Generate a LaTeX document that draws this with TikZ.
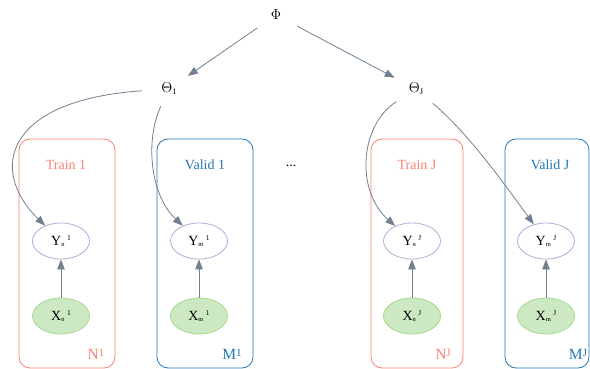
\documentclass[tikz,border=0pt]{standalone}
\usepackage{fontspec}
\setmainfont{Liberation Serif}
\usetikzlibrary{shapes.geometric,arrows.meta}
\definecolor{edgec}{HTML}{708090}
\definecolor{trainc}{HTML}{FA8072}
\definecolor{validc}{HTML}{1F77B4}
\definecolor{ystroke}{HTML}{B8A6D9}
\definecolor{xfill}{HTML}{CDE9C3}
\definecolor{xstroke}{HTML}{A6D98C}
\newcommand\sublab[3]{#1\raisebox{-1.5pt}{\fontsize{6.5}{6.5}\selectfont #2}\hspace{2.5pt}\raisebox{5pt}{\fontsize{7.5}{7.5}\selectfont #3}}
\newcommand\thetalab[1]{$\Theta$\raisebox{-2pt}{\fontsize{8.5}{8.5}\selectfont #1}}
\newcommand\platelab[2]{#1\raisebox{3pt}{\fontsize{11}{11}\selectfont #2}}
\tikzset{
  hidden/.style={ellipse,minimum width=54pt,minimum height=36pt,inner sep=0pt,font=\fontsize{14}{14}\selectfont},
  ynode/.style={ellipse,draw=ystroke,line width=0.8pt,minimum width=57pt,minimum height=36pt,inner sep=0pt,font=\fontsize{14}{14}\selectfont},
  xnode/.style={ellipse,draw=xstroke,fill=xfill,line width=0.8pt,minimum width=57pt,minimum height=36pt,inner sep=0pt,font=\fontsize{14}{14}\selectfont},
  trainbox/.style={draw=trainc,line width=0.8pt,rounded corners=11pt},
  validbox/.style={draw=validc,line width=0.8pt,rounded corners=11pt},
  traintxt/.style={text=trainc,font=\fontsize{14}{14}\selectfont,inner sep=0pt},
  validtxt/.style={text=validc,font=\fontsize{14}{14}\selectfont,inner sep=0pt},
  platetxt/.style={font=\fontsize{15.5}{15.5}\selectfont,inner sep=0pt},
  edge/.style={draw=edgec,line width=0.8pt,-{Triangle[length=10pt,width=7.5pt]}},
}
\begin{document}
\begin{tikzpicture}[x=1pt,y=-1pt]
\useasboundingbox (0,0) rectangle (590,369);
% plates
\draw[trainbox] (19,139) rectangle (115,368);
\draw[validbox] (157,139) rectangle (253,368);
\draw[trainbox] (371,139) rectangle (463,368);
\draw[validbox] (505,139) rectangle (589,368);
\node[traintxt] (lt1) at (66,165) {Train 1};
\node[validtxt] (lv1) at (205,165) {Valid 1};
\node[traintxt] (ltJ) at (417,165) {Train J};
\node[validtxt] (lvJ) at (550,165) {Valid J};
\node[platetxt,text=trainc] (pn1) at (96,354) {\platelab{N}{1}};
\node[platetxt,text=validc] (pm1) at (232,354) {\platelab{M}{1}};
\node[platetxt,text=trainc] (pnJ) at (443,354) {\platelab{N}{J}};
\node[platetxt,text=validc] (pmJ) at (578,354) {\platelab{M}{J}};
\node[font=\fontsize{14}{14}\selectfont] (dots) at (291,166) {...};
% top nodes
\node[hidden] (phi) at (276,15) {$\Phi$};
\node[hidden] (t1) at (169,89) {\thetalab{1}};
\node[hidden] (tJ) at (416,89) {\thetalab{J}};
% observed/latent nodes
\node[ynode] (yn1) at (61,241) {\sublab{Y}{n}{1}};
\node[xnode] (xn1) at (61,316) {\sublab{X}{n}{1}};
\node[ynode] (ym1) at (199,241) {\sublab{Y}{m}{1}};
\node[xnode] (xm1) at (199,316) {\sublab{X}{m}{1}};
\node[ynode] (ynJ) at (412,241) {\sublab{Y}{n}{J}};
\node[xnode] (xnJ) at (412,316) {\sublab{X}{n}{J}};
\node[ynode] (ymJ) at (546,241) {\sublab{Y}{m}{J}};
\node[xnode] (xmJ) at (546,316) {\sublab{X}{m}{J}};
% edges
\draw[edge] (phi) -- (t1);
\draw[edge] (phi) -- (tJ);
\draw[edge] (t1) .. controls (5,100) and (-12,170) .. (yn1);
\draw[edge] (t1) .. controls (145,140) and (150,195) .. (ym1);
\draw[edge] (tJ) .. controls (360,125) and (355,190) .. (ynJ);
\draw[edge] (tJ) .. controls (470,135) and (505,185) .. (ymJ);
\draw[edge] (xn1) -- (yn1);
\draw[edge] (xm1) -- (ym1);
\draw[edge] (xnJ) -- (ynJ);
\draw[edge] (xmJ) -- (ymJ);
\end{tikzpicture}
\end{document}
